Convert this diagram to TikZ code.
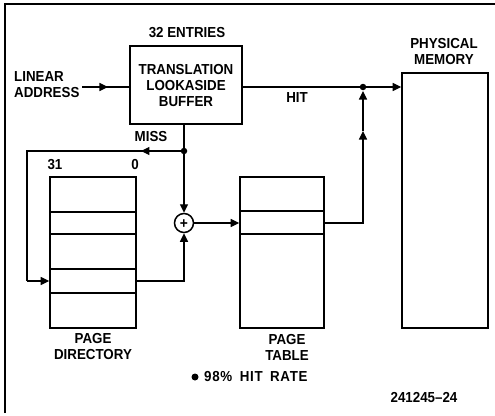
\documentclass[tikz,border=0pt]{standalone}
\usepackage{fontspec}
\setmainfont{Liberation Sans}[BoldFeatures={FakeStretch=0.92}]
\usetikzlibrary{arrows.meta,decorations.markings}
\tikzset{
  box/.style={draw, line width=1.6pt, inner sep=0pt},
  conn/.style={line width=1.1pt},
  tip/.style={-{Triangle[length=8.5pt,width=8pt]}},
  midtip/.style={postaction={decorate}, decoration={markings, mark=at position #1 with {\arrow{Triangle[length=8.5pt,width=8pt]}}}},
  lbl/.style={font=\fontsize{14.5}{16}\selectfont\bfseries, inner sep=0pt, align=center},
  dot/.style={circle, fill, inner sep=0pt, minimum size=6.5pt},
}
\begin{document}
\begin{tikzpicture}[x=1pt,y=-1pt]
\useasboundingbox (0,0) rectangle (495,415);
% frame
\draw[line width=1.1pt] (5,413) -- (5,4) -- (495,4);
% boxes
\node[box, minimum width=112pt, minimum height=78pt] (tlb) at (186,85) {};
\node[lbl] (tlbtxt) at (186,86) {TRANSLATION\\LOOKASIDE\\BUFFER};
\node[lbl] (entries) at (187,33) {32 ENTRIES};
\node[box, minimum width=86pt, minimum height=151pt] (pd) at (93,252.5) {};
\node[box, minimum width=84pt, minimum height=151pt] (pt) at (282,252.5) {};
\node[box, minimum width=86pt, minimum height=255pt] (pm) at (445,200.5) {};
\node[draw, circle, line width=1.5pt, minimum size=19pt, inner sep=0pt] (adder) at (184,223) {};
\node[lbl, font=\fontsize{15}{15}\selectfont\bfseries] (plus) at (184,224) {+};
% rows
\foreach \y in {212,234,269,293} \draw[line width=1.4pt] (pd.west |- 0,\y) -- (pd.east |- 0,\y);
\foreach \y in {211,234} \draw[line width=1.4pt] (pt.west |- 0,\y) -- (pt.east |- 0,\y);
% labels
\node[lbl, anchor=west, align=left] (la) at (14,85) {LINEAR\\ADDRESS};
\node[lbl] (miss) at (151,137) {MISS};
\node[lbl] (b31) at (55,165) {31};
\node[lbl] (b0) at (135,165) {0};
\node[lbl] (hit) at (297,98) {HIT};
\node[lbl] (pmlbl) at (444,52) {PHYSICAL\\MEMORY};
\node[lbl] (pdlbl) at (93,347) {PAGE\\DIRECTORY};
\node[lbl] (ptlbl) at (287,347) {PAGE\\TABLE};
\node[dot, minimum size=7pt] (bullet) at (195,377) {};
\node[lbl, anchor=west] (rate) at (204,377) {\addfontfeature{LetterSpace=5}98\%\hspace{3pt} HIT\hspace{3pt} RATE};
\node[lbl] (fig) at (424,398) {241245–24};
% coordinates
\coordinate (missdot) at (184,151);
\coordinate (hitdot) at (363,87);
\coordinate (lain) at (82,87);
\coordinate (lcorner) at (27,151);
\coordinate (lbottom) at (27,281);
\coordinate (hitup) at (363,131);
\coordinate (hitend) at (363,91);
\node[dot] at (missdot) {};
\node[dot] at (hitdot) {};
% connectors
\draw[conn, midtip=0.55] (lain) -- (tlb.west |- lain);
\draw[conn] (tlb.south -| missdot) -- (missdot);
\draw[conn, tip] (missdot) -- (adder.north);
\draw[conn, midtip=0.15] (missdot) -- (lcorner) -- (lbottom);
\draw[conn, tip] (lbottom) -- (pd.west |- lbottom);
\draw[conn, tip] (pd.east |- lbottom) -| (adder.south);
\draw[conn, tip] (adder.east) -- (pt.west |- adder);
\draw[conn, tip] (tlb.east |- hitdot) -- (pm.west |- hitdot);
\draw[conn, tip] (pt.east |- 0,223) -| (hitup);
\draw[conn, tip] (hitup) -- (hitend);
\end{tikzpicture}
\end{document}
